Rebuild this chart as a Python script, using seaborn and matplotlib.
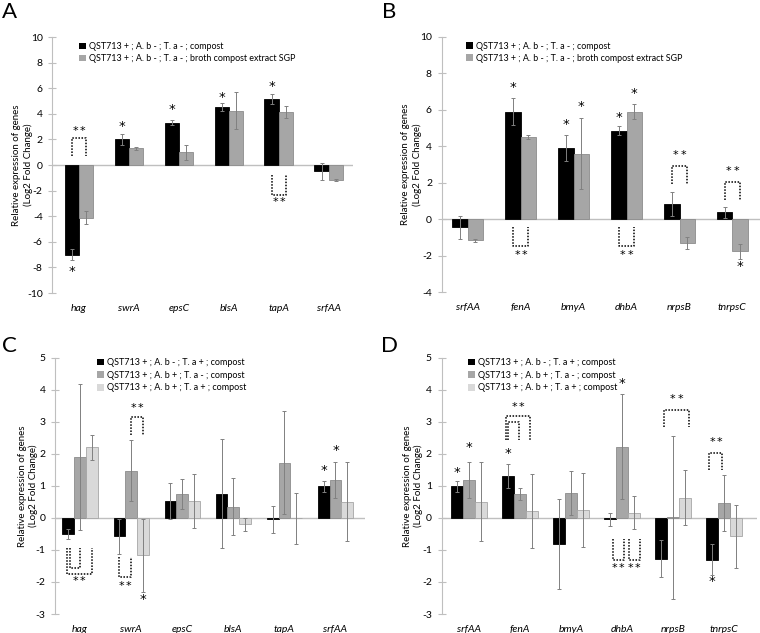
import numpy as np
import pandas as pd
import seaborn as sns
import matplotlib.pyplot as plt

# panel A / B : two conditions
genes_a = ['hag', 'swrA', 'epsC', 'blsA', 'tapA', 'srfAA']
a_compost = [-7.0, 2.0, 3.3, 4.55, 5.15, -0.5]
a_compost_err = [0.45, 0.45, 0.2, 0.3, 0.4, 0.65]
a_broth = [-4.1, 1.3, 1.0, 4.25, 4.15, -1.2]
a_broth_err = [0.5, 0.15, 0.6, 1.45, 0.45, 0.08]

genes_b = ['srfAA', 'fenA', 'bmyA', 'dhbA', 'nrpsB', 'tnrpsC']
b_compost = [-0.45, 5.9, 3.9, 4.85, 0.85, 0.38]
b_compost_err = [0.65, 0.75, 0.7, 0.25, 0.65, 0.3]
b_broth = [-1.15, 4.5, 3.6, 5.9, -1.3, -1.75]
b_broth_err = [0.07, 0.12, 1.95, 0.4, 0.35, 0.4]

# panel C / D : three conditions
genes_c = ['hag', 'swrA', 'epsC', 'blsA', 'tapA', 'srfAA']
c_ta = [-0.5, -0.58, 0.53, 0.75, -0.05, 0.98]
c_ta_err = [0.15, 0.55, 0.55, 1.7, 0.42, 0.17]
c_ab = [1.9, 1.47, 0.75, 0.35, 1.72, 1.18]
c_ab_err = [2.27, 0.95, 0.47, 0.88, 1.6, 0.57]
c_abta = [2.2, -1.17, 0.53, -0.2, -0.01, 0.5]
c_abta_err = [0.38, 1.13, 0.85, 0.2, 0.79, 1.23]

genes_d = ['srfAA', 'fenA', 'bmyA', 'dhbA', 'nrpsB', 'tnrpsC']
d_ta = [0.98, 1.3, -0.82, -0.05, -1.27, -1.3]
d_ta_err = [0.17, 0.38, 1.4, 0.2, 0.57, 0.47]
d_ab = [1.18, 0.75, 0.77, 2.22, 0.02, 0.47]
d_ab_err = [0.57, 0.19, 0.69, 1.63, 2.55, 0.88]
d_abta = [0.5, 0.22, 0.25, 0.16, 0.63, -0.58]
d_abta_err = [1.23, 1.15, 1.16, 0.52, 0.85, 0.97]

labels_ab = ['QST713 + ; A. b - ; T. a - ; compost',
             'QST713 + ; A. b - ; T. a - ; broth compost extract SGP']
labels_cd = ['QST713 + ; A. b - ; T. a + ; compost',
             'QST713 + ; A. b + ; T. a - ; compost',
             'QST713 + ; A. b + ; T. a + ; compost']

# significance marks: (gene idx, bar idx, y)
stars_a = [(0, 0, -8.3), (1, 0, 3.05), (2, 0, 4.35), (3, 0, 5.3), (4, 0, 6.15)]
stars_b = [(1, 0, 7.23), (2, 0, 5.2), (2, 1, 6.2), (3, 0, 5.6), (3, 1, 6.87), (5, 1, -2.6)]
stars_c = [(1, 2, -2.56), (5, 0, 1.47), (5, 1, 2.09)]
stars_d = [(0, 0, 1.43), (0, 1, 2.2), (1, 0, 2.0), (3, 1, 4.18), (5, 0, -1.99)]

# brackets: (gene idx, bar a, bar b, leg end y, bar y, label y or None, dx a, dx b)
brackets_a = [(0, 0, 1, 0.7, 2.1, 2.65, 0, 0), (4, 0, 1, -0.8, -2.3, -2.9, 0, 0)]
brackets_b = [(1, 0, 1, -0.45, -1.47, -1.98, 0, 0), (3, 0, 1, -0.45, -1.47, -1.98, 0, 0),
              (4, 0, 1, 1.94, 2.94, 3.52, 0, 0), (5, 0, 1, 1.07, 2.07, 2.67, 0, 0)]
brackets_c = [(0, 0, 2, -0.95, -1.75, -1.98, -0.03, 0),
              (0, 0, 1, -0.95, -1.55, None, 0.025, 0),
              (1, 0, 1, -1.23, -1.85, -2.12, 0, 0), (1, 1, 2, 2.6, 3.16, 3.42, 0, 0)]
brackets_d = [(1, 0, 2, 2.43, 3.18, 3.47, -0.05, -0.03),
              (1, 0, 1, 2.43, 3.0, None, 0, -0.026),
              (3, 0, 1, -0.65, -1.31, -1.55, 0.05, 0.03),
              (3, 1, 2, -0.65, -1.31, -1.55, 0.13, 0.11),
              (4, 0, 2, 2.83, 3.37, 3.7, 0.05, 0.09),
              (5, 0, 1, 1.5, 2.04, 2.36, -0.06, -0.03)]

plt.rcParams['font.family'] = ['Lato', 'DejaVu Sans']
plt.rcParams['axes.unicode_minus'] = False
axis_grey = '#bfbfbf'


def panel(rect, genes, series, errs, labels, colors, edges, width, ylim, yticks,
          xlim, stars, brackets, leg_xy, lpad, leg_fs, leg_sp):
    ax = fig.add_axes(rect)
    df = pd.DataFrame({
        'gene': np.tile(genes, len(series)),
        'cond': np.repeat(labels, len(genes)),
        'val': np.concatenate(series),
    })
    sns.barplot(data=df, x='gene', y='val', hue='cond', palette=colors,
                errorbar=None, width=width, saturation=1, ax=ax, zorder=2)
    bars = list(ax.containers)
    centers = []
    for i, cont in enumerate(bars):
        xs = []
        for p in cont.patches:
            p.set_edgecolor(edges[i])
            p.set_linewidth(0.6)
            xs.append(p.get_x() + p.get_width() / 2)
        centers.append(xs)
        ax.errorbar(xs, series[i], yerr=errs[i], fmt='none', ecolor='#808080',
                    elinewidth=0.7, capsize=1.5, capthick=0.7, zorder=3)
    ax.axhline(0, color=axis_grey, lw=1, zorder=1)
    ax.set_xlim(*xlim)
    ax.set_ylim(*ylim)
    ax.set_yticks(yticks)
    ax.set_xlabel('')
    ax.set_ylabel('Relative expression of genes\n(Log2 Fold Change)', fontsize=7,
                  labelpad=lpad)
    for s in ['top', 'right', 'bottom']:
        ax.spines[s].set_visible(False)
    ax.spines['left'].set_color(axis_grey)
    ax.tick_params(axis='y', direction='inout', length=6, color=axis_grey,
                   labelsize=7.5, pad=4)
    ax.tick_params(axis='x', length=0, labelsize=7.5, pad=8)
    for t in ax.get_xticklabels():
        t.set_fontstyle('italic')
    h, l = ax.get_legend_handles_labels()
    ax.legend(h, l, frameon=False, loc='upper left', bbox_to_anchor=leg_xy,
              fontsize=leg_fs, handlelength=0.75, handleheight=0.75,
              handletextpad=0.3, labelspacing=leg_sp, borderaxespad=0)
    for g, b, y in stars:
        ax.text(centers[b][g], y, '*', ha='center', va='center', fontsize=9.5,
                family='DejaVu Sans')
    for g, a, b, y0, y1, ly, dxa, dxb in brackets:
        xa = centers[a][g] + dxa
        xb = centers[b][g] + dxb
        ax.plot([xa, xa, xb, xb], [y0, y1, y1, y0], color='black', lw=1.1,
                ls=(0, (1, 1)), zorder=4)
        if ly is not None:
            for off in (-2.6, 2.6):
                ax.annotate('*', ((xa + xb) / 2, ly), xytext=(off, 0),
                            textcoords='offset points', ha='center',
                            va='center', fontsize=8, family='DejaVu Sans')
    return ax


fig = plt.figure(figsize=(7.6, 6.33), dpi=100)

panel([0.069, 0.537, 0.395, 0.4044], genes_a, [a_compost, a_broth],
      [a_compost_err, a_broth_err], labels_ab, ['#000000', '#a6a6a6'],
      ['#000000', '#8c8c8c'], 0.57, (-10, 10), range(-10, 11, 2),
      (-0.53, 5.48), stars_a, brackets_a, (0.078, 0.995), -4, 6.4, 0.35)
panel([0.5812, 0.5383, 0.4188, 0.4035], genes_b, [b_compost, b_broth],
      [b_compost_err, b_broth_err], labels_ab, ['#000000', '#a6a6a6'],
      ['#000000', '#8c8c8c'], 0.58, (-4, 10), range(-4, 11, 2),
      (-0.49, 5.52), stars_b, brackets_b, (0.066, 0.995), -1, 6.4, 0.35)
panel([0.0724, 0.030, 0.408, 0.405], genes_c, [c_ta, c_ab, c_abta],
      [c_ta_err, c_ab_err, c_abta_err], labels_cd,
      ['#000000', '#a6a6a6', '#d9d9d9'], ['#000000', '#8c8c8c', '#a6a6a6'],
      0.69, (-3, 5), range(-3, 6), (-0.49, 5.58), stars_c, brackets_c,
      (0.125, 1.012), -2, 6.5, 0.4)
panel([0.581, 0.030, 0.4145, 0.405], genes_d, [d_ta, d_ab, d_abta],
      [d_ta_err, d_ab_err, d_abta_err], labels_cd,
      ['#000000', '#a6a6a6', '#d9d9d9'], ['#000000', '#8c8c8c', '#a6a6a6'],
      0.7, (-3, 5), range(-3, 6), (-0.54, 5.64), stars_d, brackets_d,
      (0.073, 1.012), -1, 6.5, 0.4)

for x, y, s in [(2, 18, 'A'), (382, 18, 'B'), (2, 352, 'C'), (381, 352, 'D')]:
    fig.text(x / 760, 1 - y / 633, s, fontsize=16, va='baseline', ha='left')

fig.savefig('out.png', dpi=100)
